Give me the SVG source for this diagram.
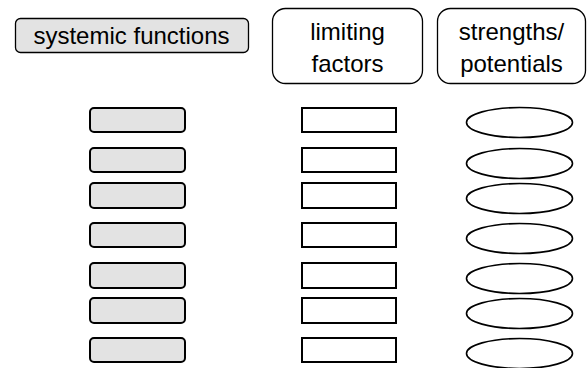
<svg xmlns="http://www.w3.org/2000/svg" width="588" height="368" viewBox="0 0 588 368">
<style>
.hd{stroke:#000;stroke-width:1.3}
.t{font-family:"Liberation Sans",Arial,sans-serif;font-size:24px;fill:#000;text-anchor:middle}
.g{fill:#e3e3e3;stroke:#000;stroke-width:2}
.w{fill:#fff;stroke:#000;stroke-width:2}
.e{fill:#fff;stroke:#000;stroke-width:1.6}
</style>
<rect width="588" height="368" fill="#fff"/>
<g id="h1"><rect class="hd" x="15.5" y="18.5" width="233" height="34" rx="5" fill="#e3e3e3"/><text class="t" x="131.5" y="44">systemic functions</text></g>
<g id="h2"><rect class="hd" x="272.5" y="8.5" width="150" height="75" rx="13" fill="#fff"/><text class="t" x="347.5" y="40">limiting</text><text class="t" x="347.5" y="72">factors</text></g>
<g id="h3"><rect class="hd" x="437.5" y="8.5" width="148" height="75" rx="13" fill="#fff"/><text class="t" x="511.5" y="40">strengths/</text><text class="t" x="511.5" y="72">potentials</text></g>
<g id="s1"><rect class="g" x="90" y="108" width="95" height="24" rx="4"/></g>
<g id="s2"><rect class="g" x="90" y="148" width="95" height="24" rx="4"/></g>
<g id="s3"><rect class="g" x="90" y="183" width="95" height="25" rx="4"/></g>
<g id="s4"><rect class="g" x="90" y="223" width="95" height="24" rx="4"/></g>
<g id="s5"><rect class="g" x="90" y="263" width="95" height="25" rx="4"/></g>
<g id="s6"><rect class="g" x="90" y="298" width="95" height="25" rx="4"/></g>
<g id="s7"><rect class="g" x="90" y="338" width="95" height="24" rx="4"/></g>
<g id="l1"><rect class="w" x="302" y="108" width="94" height="24"/></g>
<g id="l2"><rect class="w" x="302" y="148" width="94" height="24"/></g>
<g id="l3"><rect class="w" x="302" y="183" width="94" height="25"/></g>
<g id="l4"><rect class="w" x="302" y="223" width="94" height="24"/></g>
<g id="l5"><rect class="w" x="302" y="263" width="94" height="25"/></g>
<g id="l6"><rect class="w" x="302" y="298" width="94" height="25"/></g>
<g id="l7"><rect class="w" x="302" y="338" width="94" height="24"/></g>
<g id="p1"><ellipse class="e" cx="519.5" cy="122.5" rx="53" ry="15"/></g>
<g id="p2"><ellipse class="e" cx="519.5" cy="163.5" rx="53" ry="15"/></g>
<g id="p3"><ellipse class="e" cx="519.5" cy="198.5" rx="53" ry="15"/></g>
<g id="p4"><ellipse class="e" cx="519.5" cy="238.5" rx="53" ry="15"/></g>
<g id="p5"><ellipse class="e" cx="519.5" cy="278.5" rx="53" ry="15"/></g>
<g id="p6"><ellipse class="e" cx="519.5" cy="313.5" rx="53" ry="15"/></g>
<g id="p7"><ellipse class="e" cx="519.5" cy="353.5" rx="53" ry="15"/></g>
<g id="connectors"></g>
</svg>
